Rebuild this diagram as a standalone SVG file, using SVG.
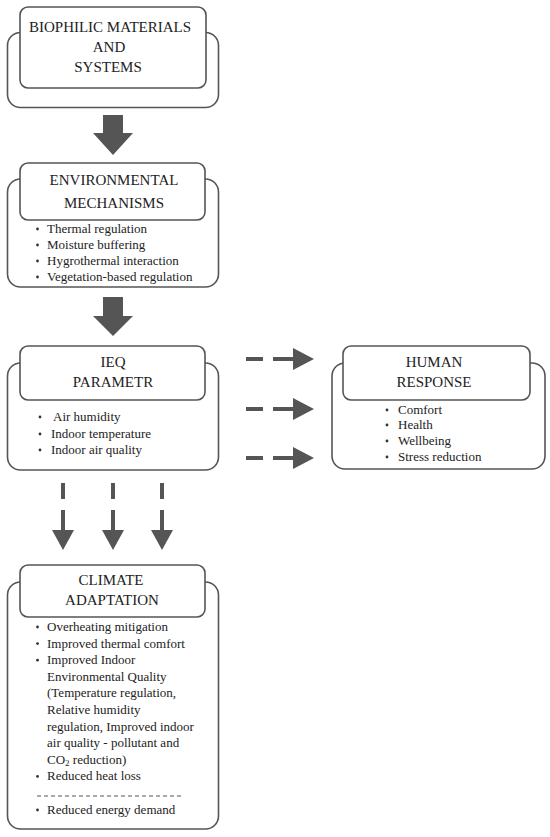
<svg xmlns="http://www.w3.org/2000/svg" width="550" height="837" viewBox="0 0 550 837">
<style>
.outer{fill:#fff;stroke:#555;stroke-width:1.6}
.inner{fill:#fff;stroke:#555;stroke-width:1.6}
.h{font-family:"Liberation Serif","DejaVu Serif",serif;font-size:15px;fill:#222;text-anchor:middle}
.b{font-family:"Liberation Serif","DejaVu Serif",serif;font-size:13px;fill:#222}
.dot{fill:#333}
.big{fill:#555}
.dash{stroke:#555;stroke-width:4;fill:none}
.head{fill:#555}
</style>
<rect width="550" height="837" fill="#fff"/>

<g id="biophilic">
<rect class="outer" x="7.5" y="32.5" width="211" height="75" rx="13"/>
<rect class="inner" x="20" y="7" width="186" height="81" rx="8"/>
<text class="h" x="110" y="32">BIOPHILIC MATERIALS</text>
<text class="h" x="109" y="52">AND</text>
<text class="h" x="108" y="72">SYSTEMS</text>
</g>

<g id="environmental">
<rect class="outer" x="7.5" y="179" width="211" height="108" rx="13"/>
<rect class="inner" x="20" y="163" width="185" height="57" rx="8"/>
<text class="h" x="114" y="185">ENVIRONMENTAL</text>
<text class="h" x="114" y="208">MECHANISMS</text>
<circle class="dot" cx="37.5" cy="229" r="1.4"/>
<circle class="dot" cx="37.5" cy="245" r="1.4"/>
<circle class="dot" cx="37.5" cy="261" r="1.4"/>
<circle class="dot" cx="37.5" cy="277" r="1.4"/>
<text class="b" x="47" y="233">Thermal regulation</text>
<text class="b" x="47" y="249">Moisture buffering</text>
<text class="b" x="47" y="265">Hygrothermal interaction</text>
<text class="b" x="47" y="281">Vegetation-based regulation</text>
</g>

<g id="ieq">
<rect class="outer" x="7.5" y="363" width="211" height="107" rx="13"/>
<rect class="inner" x="20" y="346" width="185" height="54" rx="8"/>
<text class="h" x="113" y="367">IEQ</text>
<text class="h" x="113" y="387">PARAMETR</text>
<circle class="dot" cx="40" cy="417" r="1.4"/>
<circle class="dot" cx="40" cy="434" r="1.4"/>
<circle class="dot" cx="40" cy="450" r="1.4"/>
<text class="b" x="53" y="421">Air humidity</text>
<text class="b" x="51" y="438">Indoor temperature</text>
<text class="b" x="51" y="454">Indoor air quality</text>
</g>

<g id="human">
<rect class="outer" x="332" y="363" width="213" height="106" rx="13"/>
<rect class="inner" x="343" y="346" width="187" height="54" rx="8"/>
<text class="h" x="434" y="367">HUMAN</text>
<text class="h" x="434" y="387">RESPONSE</text>
<circle class="dot" cx="387" cy="410" r="1.4"/>
<circle class="dot" cx="387" cy="425" r="1.4"/>
<circle class="dot" cx="387" cy="441" r="1.4"/>
<circle class="dot" cx="387" cy="457" r="1.4"/>
<text class="b" x="398" y="414">Comfort</text>
<text class="b" x="398" y="429">Health</text>
<text class="b" x="398" y="445">Wellbeing</text>
<text class="b" x="398" y="461">Stress reduction</text>
</g>

<g id="climate">
<rect class="outer" x="7.5" y="582" width="211" height="247" rx="13"/>
<rect class="inner" x="20" y="565" width="185" height="52" rx="8"/>
<text class="h" x="111" y="585">CLIMATE</text>
<text class="h" x="112" y="605">ADAPTATION</text>
<circle class="dot" cx="37.5" cy="627" r="1.4"/>
<circle class="dot" cx="37.5" cy="643.6" r="1.4"/>
<circle class="dot" cx="37.5" cy="660.2" r="1.4"/>
<circle class="dot" cx="37.5" cy="776.4" r="1.4"/>
<circle class="dot" cx="37.5" cy="810" r="1.4"/>
<text class="b" x="47" y="631">Overheating mitigation</text>
<text class="b" x="47" y="647.6">Improved thermal comfort</text>
<text class="b" x="47" y="664.2">Improved Indoor</text>
<text class="b" x="47" y="680.8">Environmental Quality</text>
<text class="b" x="47" y="697.4">(Temperature regulation,</text>
<text class="b" x="47" y="714">Relative humidity</text>
<text class="b" x="47" y="730.6">regulation, Improved indoor</text>
<text class="b" x="47" y="747.2">air quality - pollutant and</text>
<text class="b" x="47" y="763.8">CO<tspan font-size="9" dy="2.5">2</tspan><tspan dy="-2.5"> reduction)</tspan></text>
<text class="b" x="47" y="780.4">Reduced heat loss</text>
<line x1="37" y1="796" x2="182" y2="796" stroke="#555" stroke-width="1" stroke-dasharray="4,3"/>
<text class="b" x="47" y="814">Reduced energy demand</text>
</g>

<g id="connectors">
<polygon class="big" points="103,115 123,115 123,133 133,133 113,155 93,133 103,133"/>
<polygon class="big" points="103,297 123,297 123,316 133,316 113,336 93,316 103,316"/>
<g>
<line class="dash" x1="246" y1="359" x2="263" y2="359"/>
<line class="dash" x1="273" y1="359" x2="295" y2="359"/>
<polygon class="head" points="293,348 314,359 293,370"/>
<line class="dash" x1="246" y1="409" x2="263" y2="409"/>
<line class="dash" x1="273" y1="409" x2="295" y2="409"/>
<polygon class="head" points="293,398 314,409 293,420"/>
<line class="dash" x1="246" y1="458" x2="263" y2="458"/>
<line class="dash" x1="273" y1="458" x2="295" y2="458"/>
<polygon class="head" points="293,447 314,458 293,469"/>
</g>
<g>
<line class="dash" x1="63" y1="483" x2="63" y2="499"/>
<line class="dash" x1="63" y1="510" x2="63" y2="532"/>
<polygon class="head" points="52,530 74,530 63,550"/>
<line class="dash" x1="113" y1="483" x2="113" y2="499"/>
<line class="dash" x1="113" y1="510" x2="113" y2="532"/>
<polygon class="head" points="102,530 124,530 113,550"/>
<line class="dash" x1="162" y1="483" x2="162" y2="499"/>
<line class="dash" x1="162" y1="510" x2="162" y2="532"/>
<polygon class="head" points="151,530 173,530 162,550"/>
</g>
</g>
</svg>
